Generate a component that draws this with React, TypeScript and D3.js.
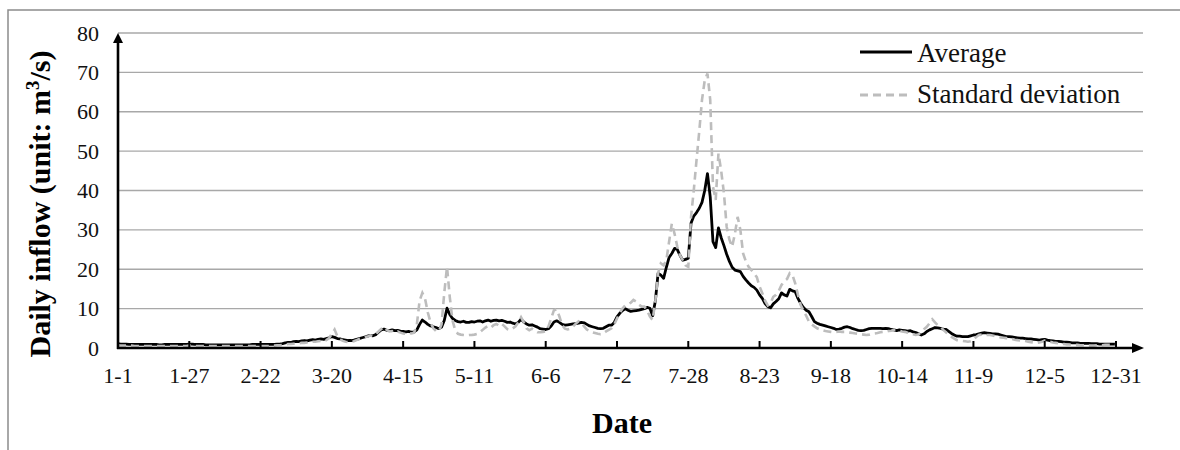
import React from 'react';
import * as d3 from 'd3';

// daily values, 1-1 .. 12-31 (365 days)
const avgFlow = [
  1.1, 1.0, 1.0, 1.0, 0.9, 0.9, 0.9, 0.9, 0.9, 0.9,
  0.9, 0.9, 0.9, 0.9, 0.9, 0.8, 0.8, 0.9, 0.9, 0.9,
  0.9, 0.9, 0.9, 0.9, 0.9, 0.9, 1.0, 1.0, 0.9, 0.9,
  0.9, 0.9, 0.8, 0.8, 0.8, 0.8, 0.8, 0.8, 0.8, 0.8,
  0.8, 0.8, 0.8, 0.8, 0.8, 0.8, 0.8, 0.8, 0.8, 0.9,
  0.9, 0.9, 0.9, 0.9, 0.9, 0.9, 0.9, 0.9, 1.0, 1.0,
  1.1, 1.3, 1.4, 1.4, 1.6, 1.7, 1.6, 1.8, 1.9, 1.8,
  2.0, 2.1, 2.0, 2.2, 2.3, 2.2, 2.4, 2.6, 2.9, 2.7,
  2.4, 2.3, 2.1, 2.0, 1.9, 1.9, 2.0, 2.2, 2.4, 2.6,
  2.8, 3.0, 3.2, 3.1, 3.4, 4.0, 4.6, 4.8, 4.5, 4.4,
  4.6, 4.4, 4.5, 4.3, 4.2, 4.1, 4.2, 4.0, 4.1, 4.6,
  6.0, 7.1, 6.6, 6.0, 5.6, 5.4, 5.2, 4.9, 5.3, 7.0,
  10.1, 8.5, 7.5, 7.0, 6.7, 6.6, 6.8, 6.5, 6.5, 6.7,
  6.6, 6.8, 6.9, 6.6, 6.9, 7.1, 6.8, 7.0, 7.1, 6.9,
  7.0, 6.8, 6.5, 6.6, 6.3, 6.1, 6.5, 7.3, 6.6, 6.1,
  5.8, 5.9, 5.6, 5.3, 4.9, 4.8, 4.7, 4.9, 5.6, 6.6,
  6.9, 6.5, 6.0, 5.8, 5.9, 6.0, 6.1, 6.2, 6.3, 6.5,
  6.4, 6.0, 5.6, 5.4, 5.2, 5.0, 4.9, 5.0, 5.4, 5.8,
  5.8, 6.5, 7.9, 8.8, 9.5, 10.0, 9.6, 9.3, 9.4, 9.5,
  9.6, 9.8, 10.0, 10.3, 10.1, 8.2, 12.0, 19.0, 18.5, 17.7,
  20.5, 23.0, 24.0, 25.3, 25.0, 23.5, 22.3, 22.5, 22.8, 31.7,
  33.5, 34.4, 35.5, 37.0, 40.0, 44.3, 38.4, 27.0, 25.5, 30.5,
  28.0, 26.0, 23.8, 22.0, 20.5, 19.8, 19.6, 19.4, 18.2, 17.3,
  16.5, 15.8, 15.4, 14.7, 13.5, 12.6, 11.3, 10.5, 10.2, 11.2,
  11.8, 12.5, 14.0, 13.5, 13.2, 14.9, 14.5, 14.3, 12.6, 11.3,
  10.3, 9.6, 9.2, 8.0, 6.7, 6.3, 6.0, 5.8, 5.6, 5.4,
  5.2, 5.0, 4.7, 4.8, 5.0, 5.3, 5.4, 5.2, 4.9, 4.7,
  4.5, 4.4, 4.5, 4.7, 4.9, 5.0, 5.0, 5.0, 5.0, 4.9,
  5.0, 4.9, 4.7, 4.6, 4.4, 4.6, 4.5, 4.4, 4.3, 4.4,
  4.1, 3.9, 3.6, 3.3, 3.6, 4.2, 4.6, 4.9, 5.2, 5.1,
  5.0, 4.8, 4.7, 4.2, 3.7, 3.3, 3.0, 3.0, 2.9, 2.9,
  2.9, 3.1, 3.3, 3.4, 3.6, 3.8, 3.9, 3.8, 3.7, 3.6,
  3.6, 3.5, 3.3, 3.1, 2.9, 2.9, 2.8, 2.7, 2.6, 2.5,
  2.5, 2.4, 2.3, 2.3, 2.2, 2.1, 2.0, 2.1, 2.2, 2.0,
  1.9, 1.8, 1.7, 1.7, 1.6, 1.5, 1.5, 1.4, 1.3, 1.3,
  1.3, 1.2, 1.2, 1.2, 1.2, 1.1, 1.1, 1.1, 1.0, 1.0,
  1.0, 1.0, 1.0, 1.0, 1.0,
];

const sdFlow = [
  0.7, 0.6, 0.6, 0.6, 0.6, 0.6, 0.5, 0.5, 0.5, 0.5,
  0.5, 0.5, 0.5, 0.5, 0.5, 0.5, 0.5, 0.5, 0.5, 0.5,
  0.5, 0.5, 0.5, 0.5, 0.5, 0.5, 0.6, 0.6, 0.5, 0.5,
  0.5, 0.5, 0.5, 0.5, 0.5, 0.5, 0.5, 0.5, 0.5, 0.5,
  0.5, 0.5, 0.5, 0.5, 0.5, 0.5, 0.5, 0.5, 0.5, 0.5,
  0.5, 0.5, 0.5, 0.5, 0.5, 0.5, 0.6, 0.6, 0.7, 0.7,
  0.8, 0.9, 1.0, 1.0, 1.1, 1.2, 1.2, 1.3, 1.3, 1.4,
  1.5, 1.6, 1.6, 1.7, 1.8, 1.8, 2.0, 2.5, 3.6, 4.7,
  3.0, 2.2, 1.8, 1.6, 1.5, 1.6, 1.7, 2.0, 2.3, 2.5,
  2.7, 2.9, 3.2, 3.0, 3.5, 4.2, 4.8, 5.4, 4.6, 4.2,
  4.3, 4.0, 4.2, 3.9, 3.7, 3.6, 3.8, 3.7, 3.9, 6.0,
  12.0, 14.0, 12.5, 9.0, 6.5, 5.0, 4.3, 4.2, 6.0, 14.0,
  20.6, 13.0, 7.0, 4.5, 3.6, 3.4, 3.3, 3.2, 3.3, 3.3,
  3.4, 3.6, 4.0, 4.6, 5.2, 5.6, 5.2, 5.8, 6.1, 5.6,
  6.1, 5.5, 4.8, 4.6, 5.0, 5.5, 6.5, 7.8, 6.5, 5.0,
  4.5, 4.9, 4.4, 4.0, 4.0, 4.1, 4.2, 5.5, 7.5, 9.6,
  9.8, 8.0, 5.8, 4.9, 4.7, 4.9, 5.5, 6.2, 6.8, 6.4,
  5.5, 4.7, 4.2, 4.0, 3.8, 3.6, 3.5, 3.7, 4.2, 4.6,
  5.0, 6.0, 7.5, 8.9, 10.0, 10.8, 11.0, 11.5, 12.2, 11.8,
  11.0, 10.5, 10.5, 9.5, 8.0, 7.1, 12.0, 19.0, 21.5, 21.0,
  22.3, 27.0, 31.6, 29.0, 25.7, 23.5, 22.3, 21.0, 20.6, 33.3,
  40.0, 47.7, 55.0, 63.0, 68.0, 69.7, 63.0, 41.0, 37.6, 49.4,
  45.0, 39.3, 30.8, 27.5, 25.7, 29.0, 33.3, 30.0, 24.0, 22.0,
  20.6, 19.8, 18.9, 18.0, 15.6, 13.9, 12.0, 10.8, 11.4, 13.0,
  13.5, 14.5, 16.0, 17.0, 17.5, 19.0, 18.5, 16.4, 13.5, 10.9,
  9.5, 8.2, 6.7, 6.0, 5.5, 5.0, 4.7, 4.5, 4.3, 4.2,
  4.1, 4.0, 4.1, 4.2, 4.1, 4.1, 4.0, 3.9, 3.8, 3.7,
  3.6, 3.5, 3.4, 3.3, 3.4, 3.6, 3.7, 3.8, 4.0, 4.1,
  4.1, 4.3, 4.4, 4.6, 4.6, 4.4, 4.2, 4.1, 3.9, 3.7,
  3.5, 3.3, 3.5, 4.0, 4.8, 5.4, 6.3, 7.3, 6.5, 5.8,
  5.4, 4.6, 4.0, 3.3, 2.8, 2.4, 2.0, 1.9, 1.8, 1.7,
  1.6, 1.7, 2.2, 2.8, 3.3, 3.4, 3.3, 3.3, 3.3, 3.2,
  3.0, 2.9, 2.7, 2.6, 2.5, 2.4, 2.3, 2.1, 2.0, 1.9,
  1.9, 1.8, 1.6, 1.5, 1.4, 1.3, 1.4, 1.6, 1.9, 1.9,
  1.6, 1.4, 1.3, 1.2, 1.1, 1.0, 0.9, 0.9, 0.8, 0.8,
  0.8, 0.7, 0.7, 0.6, 0.6, 0.6, 0.6, 0.7, 0.7, 0.7,
  0.8, 0.8, 0.8, 0.8, 0.8,
];

const dateLabels = [
  '1-1', '1-27', '2-22', '3-20', '4-15', '5-11', '6-6', '7-2',
  '7-28', '8-23', '9-18', '10-14', '11-9', '12-5', '12-31',
];
const dateLabelDays = [0, 26, 52, 78, 104, 130, 156, 182, 208, 234, 260, 286, 312, 338, 364];
const yTicks = [0, 10, 20, 30, 40, 50, 60, 70, 80];

const FONT = '"Times New Roman", "Liberation Serif", serif';
const GRAY = '#bdbdbd';

const App = () => {
  const width = 1180;
  const height = 450;
  const left = 118;
  const right = 1116;
  const bottom = 348;
  const top = 33;
  const gridEnd = 1143;

  const x = d3.scaleLinear().domain([0, 364]).range([left, right]);
  const y = d3.scaleLinear().domain([0, 80]).range([bottom, top]);

  const line = d3
    .line<number>()
    .x((d, i) => x(i))
    .y((d) => y(d));

  return (
    <div style={{ position: 'absolute', left: 0, top: 0 }}>
      <svg width={width} height={height} style={{ display: 'block', background: '#fff' }}>
        {/* outer frame */}
        <rect x={8} y={10} width={1200} height={460} fill="none" stroke="#8c8c8c" strokeWidth={1.5} />

        {/* gridlines */}
        {yTicks
          .filter((t) => t > 0)
          .map((t) => (
            <line key={t} x1={left} x2={gridEnd} y1={y(t)} y2={y(t)} stroke="#a8a8a8" strokeWidth={1.4} />
          ))}

        {/* y tick labels */}
        {yTicks.map((t) => (
          <text key={t} x={99} y={y(t) + 7.5} textAnchor="end" fontFamily={FONT} fontSize={22} fill="#111">
            {t}
          </text>
        ))}

        {/* series: average first, dashed std dev on top */}
        <path d={line(avgFlow) || ''} fill="none" stroke="#000" strokeWidth={2.8} strokeLinejoin="round" />
        <path d={line(sdFlow) || ''} fill="none" stroke={GRAY} strokeWidth={2.6} strokeDasharray="8,5" />

        {/* axes */}
        <line x1={left} x2={left} y1={bottom + 1} y2={top + 8} stroke="#000" strokeWidth={2.6} />
        <path d={`M${left - 5},${top + 10}L${left},${top}L${left + 5},${top + 10}Z`} fill="#000" />
        <line x1={left - 1} x2={gridEnd - 8} y1={bottom} y2={bottom} stroke="#000" strokeWidth={2.6} />
        <path d={`M${gridEnd - 11},${bottom - 5}L${gridEnd + 1},${bottom}L${gridEnd - 11},${bottom + 5}Z`} fill="#000" />

        {/* x ticks and labels */}
        {dateLabels.map((lab, i) => (
          <g key={lab} transform={`translate(${x(dateLabelDays[i])},0)`}>
            <line y1={bottom} y2={bottom - 7} stroke="#000" strokeWidth={2} />
            <text y={383} textAnchor="middle" fontFamily={FONT} fontSize={22} fill="#111">
              {lab}
            </text>
          </g>
        ))}

        {/* axis titles */}
        <text x={622} y={433} textAnchor="middle" fontFamily={FONT} fontSize={30} fontWeight="bold" fill="#000">
          Date
        </text>
        <text
          transform="translate(50,204) rotate(-90)"
          textAnchor="middle"
          fontFamily={FONT}
          fontSize={30}
          fontWeight="bold"
          fill="#000"
        >
          Daily inflow (unit: m
          <tspan dy={-11} fontSize={19}>3</tspan>
          <tspan dy={11}>/s)</tspan>
        </text>

        {/* legend */}
        <line x1={860} x2={912} y1={52} y2={52} stroke="#000" strokeWidth={3} />
        <text x={917} y={62} fontFamily={FONT} fontSize={27} fill="#111">
          Average
        </text>
        <line x1={860} x2={912} y1={95} y2={95} stroke={GRAY} strokeWidth={3} strokeDasharray="8,5" />
        <text x={917} y={103} fontFamily={FONT} fontSize={27} fill="#111">
          Standard deviation
        </text>
      </svg>
    </div>
  );
};

export default App;
